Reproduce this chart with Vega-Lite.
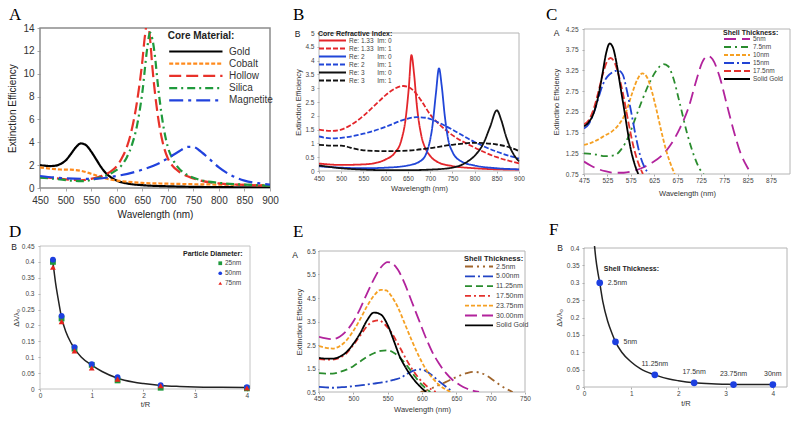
{
"$schema": "https://vega.github.io/schema/vega-lite/v6.json",
"background": "white",
"padding": {"left": 7, "top": 6, "right": 5, "bottom": 5},
"columns": 3,
"spacing": {"row": 58, "column": 49},
"bounds": "flush",
"align": {"row": "all", "column": "none"},
"resolve": {"scale": {"x": "independent", "y": "independent", "color": "independent", "strokeDash": "independent", "shape": "independent"}, "legend": {"color": "independent", "strokeDash": "independent", "shape": "independent"}},
"config": {
  "font": "Liberation Sans",
  "view": {"stroke": null},
  "axis": {"labelFont": "Liberation Sans", "titleFont": "Liberation Sans", "labelFontSize": 6.5, "titleFontSize": 7.5, "titleFontWeight": "normal", "labelColor": "#444", "titleColor": "#333", "domain": false, "grid": false, "tickSize": 2, "tickColor": "#aaa", "labelPadding": 2, "titlePadding": 3, "labelOverlap": false, "labelFlush": false},
  "legend": {"labelFont": "Liberation Sans", "titleFont": "Liberation Sans", "padding": 0, "orient": "none"},
  "text": {"font": "Liberation Sans"}
},
"datasets": {
"a": [
{"s":"Gold","x":450,"y":2.0},{"s":"Gold","x":460,"y":1.95},{"s":"Gold","x":470,"y":1.92},{"s":"Gold","x":480,"y":1.95},{"s":"Gold","x":490,"y":2.1},{"s":"Gold","x":500,"y":2.4},{"s":"Gold","x":510,"y":2.95},{"s":"Gold","x":520,"y":3.55},{"s":"Gold","x":530,"y":3.9},{"s":"Gold","x":540,"y":3.75},{"s":"Gold","x":550,"y":3.2},{"s":"Gold","x":560,"y":2.5},{"s":"Gold","x":570,"y":1.8},{"s":"Gold","x":580,"y":1.25},{"s":"Gold","x":590,"y":0.9},{"s":"Gold","x":600,"y":0.65},{"s":"Gold","x":620,"y":0.4},{"s":"Gold","x":650,"y":0.25},{"s":"Gold","x":700,"y":0.15},{"s":"Gold","x":750,"y":0.1},{"s":"Gold","x":800,"y":0.08},{"s":"Gold","x":850,"y":0.06},{"s":"Gold","x":900,"y":0.05},
{"s":"Cobalt","x":450,"y":1.8},{"s":"Cobalt","x":470,"y":1.7},{"s":"Cobalt","x":490,"y":1.62},{"s":"Cobalt","x":510,"y":1.6},{"s":"Cobalt","x":530,"y":1.5},{"s":"Cobalt","x":550,"y":1.25},{"s":"Cobalt","x":570,"y":0.95},{"s":"Cobalt","x":590,"y":0.72},{"s":"Cobalt","x":610,"y":0.6},{"s":"Cobalt","x":650,"y":0.45},{"s":"Cobalt","x":700,"y":0.38},{"s":"Cobalt","x":750,"y":0.33},{"s":"Cobalt","x":800,"y":0.3},{"s":"Cobalt","x":850,"y":0.27},{"s":"Cobalt","x":900,"y":0.25},
{"s":"Hollow","x":450,"y":0.95},{"s":"Hollow","x":480,"y":0.85},{"s":"Hollow","x":510,"y":0.72},{"s":"Hollow","x":530,"y":0.68},{"s":"Hollow","x":550,"y":0.8},{"s":"Hollow","x":570,"y":1.05},{"s":"Hollow","x":590,"y":1.5},{"s":"Hollow","x":600,"y":1.9},{"s":"Hollow","x":610,"y":2.6},{"s":"Hollow","x":620,"y":3.6},{"s":"Hollow","x":630,"y":5.2},{"s":"Hollow","x":640,"y":7.6},{"s":"Hollow","x":650,"y":11.0},{"s":"Hollow","x":655,"y":13.2},{"s":"Hollow","x":660,"y":14.5},{"s":"Hollow","x":665,"y":13.2},{"s":"Hollow","x":670,"y":10.5},{"s":"Hollow","x":680,"y":6.5},{"s":"Hollow","x":690,"y":4.0},{"s":"Hollow","x":700,"y":2.6},{"s":"Hollow","x":710,"y":1.9},{"s":"Hollow","x":720,"y":1.5},{"s":"Hollow","x":740,"y":1.0},{"s":"Hollow","x":760,"y":0.7},{"s":"Hollow","x":800,"y":0.4},{"s":"Hollow","x":850,"y":0.27},{"s":"Hollow","x":900,"y":0.2},
{"s":"Silica","x":450,"y":0.9},{"s":"Silica","x":480,"y":0.8},{"s":"Silica","x":510,"y":0.65},{"s":"Silica","x":530,"y":0.6},{"s":"Silica","x":550,"y":0.7},{"s":"Silica","x":570,"y":0.95},{"s":"Silica","x":590,"y":1.3},{"s":"Silica","x":610,"y":2.0},{"s":"Silica","x":620,"y":2.7},{"s":"Silica","x":630,"y":3.8},{"s":"Silica","x":640,"y":5.5},{"s":"Silica","x":650,"y":8.3},{"s":"Silica","x":660,"y":12.3},{"s":"Silica","x":665,"y":13.6},{"s":"Silica","x":670,"y":13.0},{"s":"Silica","x":675,"y":11.5},{"s":"Silica","x":680,"y":9.3},{"s":"Silica","x":690,"y":5.8},{"s":"Silica","x":700,"y":3.6},{"s":"Silica","x":710,"y":2.5},{"s":"Silica","x":720,"y":1.8},{"s":"Silica","x":740,"y":1.1},{"s":"Silica","x":760,"y":0.75},{"s":"Silica","x":800,"y":0.45},{"s":"Silica","x":850,"y":0.3},{"s":"Silica","x":900,"y":0.2},
{"s":"Magnetite","x":450,"y":1.05},{"s":"Magnetite","x":500,"y":0.85},{"s":"Magnetite","x":550,"y":0.8},{"s":"Magnetite","x":600,"y":1.05},{"s":"Magnetite","x":650,"y":1.6},{"s":"Magnetite","x":680,"y":2.1},{"s":"Magnetite","x":700,"y":2.6},{"s":"Magnetite","x":720,"y":3.15},{"s":"Magnetite","x":740,"y":3.6},{"s":"Magnetite","x":750,"y":3.6},{"s":"Magnetite","x":760,"y":3.35},{"s":"Magnetite","x":780,"y":2.6},{"s":"Magnetite","x":800,"y":1.8},{"s":"Magnetite","x":820,"y":1.2},{"s":"Magnetite","x":850,"y":0.65},{"s":"Magnetite","x":880,"y":0.4},{"s":"Magnetite","x":900,"y":0.3}
],
"b": [
{"s":"1.33|0","x":450,"y":0.27},{"s":"1.33|0","x":500,"y":0.22},{"s":"1.33|0","x":550,"y":0.24},{"s":"1.33|0","x":580,"y":0.3},{"s":"1.33|0","x":600,"y":0.42},{"s":"1.33|0","x":620,"y":0.65},{"s":"1.33|0","x":635,"y":1.1},{"s":"1.33|0","x":645,"y":1.9},{"s":"1.33|0","x":652,"y":3.0},{"s":"1.33|0","x":658,"y":4.2},{"s":"1.33|0","x":664,"y":3.5},{"s":"1.33|0","x":670,"y":2.4},{"s":"1.33|0","x":680,"y":1.3},{"s":"1.33|0","x":690,"y":0.8},{"s":"1.33|0","x":700,"y":0.55},{"s":"1.33|0","x":720,"y":0.3},{"s":"1.33|0","x":750,"y":0.18},{"s":"1.33|0","x":800,"y":0.1},{"s":"1.33|0","x":850,"y":0.06},{"s":"1.33|0","x":900,"y":0.05},
{"s":"1.33|1","x":450,"y":1.5},{"s":"1.33|1","x":480,"y":1.45},{"s":"1.33|1","x":500,"y":1.5},{"s":"1.33|1","x":520,"y":1.65},{"s":"1.33|1","x":550,"y":2.0},{"s":"1.33|1","x":580,"y":2.45},{"s":"1.33|1","x":600,"y":2.75},{"s":"1.33|1","x":620,"y":2.98},{"s":"1.33|1","x":640,"y":3.08},{"s":"1.33|1","x":660,"y":2.95},{"s":"1.33|1","x":680,"y":2.55},{"s":"1.33|1","x":700,"y":2.05},{"s":"1.33|1","x":720,"y":1.7},{"s":"1.33|1","x":750,"y":1.3},{"s":"1.33|1","x":800,"y":0.85},{"s":"1.33|1","x":850,"y":0.5},{"s":"1.33|1","x":900,"y":0.28},
{"s":"2|0","x":450,"y":0.17},{"s":"2|0","x":500,"y":0.12},{"s":"2|0","x":550,"y":0.1},{"s":"2|0","x":600,"y":0.12},{"s":"2|0","x":650,"y":0.2},{"s":"2|0","x":680,"y":0.38},{"s":"2|0","x":695,"y":0.8},{"s":"2|0","x":705,"y":1.6},{"s":"2|0","x":713,"y":2.8},{"s":"2|0","x":720,"y":3.72},{"s":"2|0","x":726,"y":3.1},{"s":"2|0","x":733,"y":2.0},{"s":"2|0","x":740,"y":1.2},{"s":"2|0","x":750,"y":0.7},{"s":"2|0","x":770,"y":0.35},{"s":"2|0","x":800,"y":0.2},{"s":"2|0","x":850,"y":0.1},{"s":"2|0","x":900,"y":0.06},
{"s":"2|1","x":450,"y":1.25},{"s":"2|1","x":480,"y":1.18},{"s":"2|1","x":500,"y":1.2},{"s":"2|1","x":550,"y":1.35},{"s":"2|1","x":600,"y":1.6},{"s":"2|1","x":640,"y":1.85},{"s":"2|1","x":670,"y":1.95},{"s":"2|1","x":690,"y":1.93},{"s":"2|1","x":720,"y":1.75},{"s":"2|1","x":750,"y":1.5},{"s":"2|1","x":800,"y":1.05},{"s":"2|1","x":850,"y":0.7},{"s":"2|1","x":900,"y":0.45},
{"s":"3|0","x":450,"y":0.2},{"s":"3|0","x":500,"y":0.1},{"s":"3|0","x":550,"y":0.05},{"s":"3|0","x":600,"y":0.03},{"s":"3|0","x":650,"y":0.03},{"s":"3|0","x":700,"y":0.05},{"s":"3|0","x":750,"y":0.12},{"s":"3|0","x":780,"y":0.3},{"s":"3|0","x":800,"y":0.55},{"s":"3|0","x":820,"y":1.0},{"s":"3|0","x":835,"y":1.6},{"s":"3|0","x":850,"y":2.2},{"s":"3|0","x":860,"y":1.85},{"s":"3|0","x":870,"y":1.3},{"s":"3|0","x":880,"y":0.85},{"s":"3|0","x":890,"y":0.55},{"s":"3|0","x":900,"y":0.35},
{"s":"3|1","x":450,"y":0.95},{"s":"3|1","x":480,"y":0.92},{"s":"3|1","x":500,"y":0.92},{"s":"3|1","x":520,"y":0.85},{"s":"3|1","x":550,"y":0.75},{"s":"3|1","x":600,"y":0.72},{"s":"3|1","x":650,"y":0.74},{"s":"3|1","x":700,"y":0.83},{"s":"3|1","x":750,"y":0.95},{"s":"3|1","x":800,"y":1.02},{"s":"3|1","x":850,"y":0.96},{"s":"3|1","x":880,"y":0.85},{"s":"3|1","x":900,"y":0.72}
],
"c": [
{"s":"5nm","x":475,"y":1.05},{"s":"5nm","x":490,"y":0.95},{"s":"5nm","x":505,"y":0.87},{"s":"5nm","x":520,"y":0.82},{"s":"5nm","x":540,"y":0.78},{"s":"5nm","x":560,"y":0.78},{"s":"5nm","x":580,"y":0.82},{"s":"5nm","x":600,"y":0.9},{"s":"5nm","x":620,"y":1.02},{"s":"5nm","x":640,"y":1.18},{"s":"5nm","x":660,"y":1.45},{"s":"5nm","x":680,"y":1.85},{"s":"5nm","x":700,"y":2.4},{"s":"5nm","x":715,"y":3.0},{"s":"5nm","x":728,"y":3.45},{"s":"5nm","x":740,"y":3.6},{"s":"5nm","x":750,"y":3.52},{"s":"5nm","x":765,"y":3.1},{"s":"5nm","x":780,"y":2.45},{"s":"5nm","x":795,"y":1.8},{"s":"5nm","x":810,"y":1.25},{"s":"5nm","x":825,"y":0.9},{"s":"5nm","x":833,"y":0.75},
{"s":"7.5nm","x":475,"y":1.25},{"s":"7.5nm","x":500,"y":1.22},{"s":"7.5nm","x":520,"y":1.18},{"s":"7.5nm","x":540,"y":1.2},{"s":"7.5nm","x":555,"y":1.35},{"s":"7.5nm","x":570,"y":1.65},{"s":"7.5nm","x":585,"y":2.1},{"s":"7.5nm","x":600,"y":2.55},{"s":"7.5nm","x":615,"y":2.95},{"s":"7.5nm","x":630,"y":3.25},{"s":"7.5nm","x":645,"y":3.4},{"s":"7.5nm","x":655,"y":3.35},{"s":"7.5nm","x":665,"y":3.1},{"s":"7.5nm","x":680,"y":2.45},{"s":"7.5nm","x":695,"y":1.75},{"s":"7.5nm","x":710,"y":1.2},{"s":"7.5nm","x":722,"y":0.88},{"s":"7.5nm","x":731,"y":0.75},
{"s":"10nm","x":475,"y":1.45},{"s":"10nm","x":490,"y":1.5},{"s":"10nm","x":505,"y":1.58},{"s":"10nm","x":520,"y":1.68},{"s":"10nm","x":535,"y":1.78},{"s":"10nm","x":550,"y":1.95},{"s":"10nm","x":565,"y":2.25},{"s":"10nm","x":578,"y":2.7},{"s":"10nm","x":590,"y":3.05},{"s":"10nm","x":600,"y":3.18},{"s":"10nm","x":610,"y":3.08},{"s":"10nm","x":620,"y":2.75},{"s":"10nm","x":630,"y":2.3},{"s":"10nm","x":640,"y":1.8},{"s":"10nm","x":650,"y":1.35},{"s":"10nm","x":660,"y":1.0},{"s":"10nm","x":669,"y":0.75},
{"s":"15nm","x":475,"y":1.85},{"s":"15nm","x":485,"y":1.95},{"s":"15nm","x":495,"y":2.2},{"s":"15nm","x":505,"y":2.55},{"s":"15nm","x":515,"y":2.9},{"s":"15nm","x":525,"y":3.1},{"s":"15nm","x":535,"y":3.2},{"s":"15nm","x":548,"y":3.25},{"s":"15nm","x":558,"y":3.15},{"s":"15nm","x":565,"y":2.85},{"s":"15nm","x":575,"y":2.3},{"s":"15nm","x":585,"y":1.7},{"s":"15nm","x":595,"y":1.2},{"s":"15nm","x":605,"y":0.9},{"s":"15nm","x":614,"y":0.75},
{"s":"17.5nm","x":475,"y":1.95},{"s":"17.5nm","x":485,"y":2.05},{"s":"17.5nm","x":495,"y":2.3},{"s":"17.5nm","x":505,"y":2.7},{"s":"17.5nm","x":515,"y":3.15},{"s":"17.5nm","x":525,"y":3.48},{"s":"17.5nm","x":532,"y":3.55},{"s":"17.5nm","x":540,"y":3.45},{"s":"17.5nm","x":550,"y":3.1},{"s":"17.5nm","x":560,"y":2.6},{"s":"17.5nm","x":570,"y":2.0},{"s":"17.5nm","x":580,"y":1.45},{"s":"17.5nm","x":590,"y":1.05},{"s":"17.5nm","x":601,"y":0.75},
{"s":"Solid Gold","x":475,"y":1.9},{"s":"Solid Gold","x":485,"y":2.0},{"s":"Solid Gold","x":495,"y":2.2},{"s":"Solid Gold","x":505,"y":2.6},{"s":"Solid Gold","x":515,"y":3.2},{"s":"Solid Gold","x":522,"y":3.65},{"s":"Solid Gold","x":530,"y":3.9},{"s":"Solid Gold","x":537,"y":3.8},{"s":"Solid Gold","x":545,"y":3.4},{"s":"Solid Gold","x":553,"y":2.85},{"s":"Solid Gold","x":561,"y":2.3},{"s":"Solid Gold","x":568,"y":1.8},{"s":"Solid Gold","x":575,"y":1.35},{"s":"Solid Gold","x":583,"y":1.0},{"s":"Solid Gold","x":591,"y":0.75}
],
"dp": [
{"s":"25nm","x":0.25,"y":0.4},{"s":"25nm","x":0.417,"y":0.222},{"s":"25nm","x":0.667,"y":0.127},{"s":"25nm","x":1.0,"y":0.076},{"s":"25nm","x":1.5,"y":0.027},{"s":"25nm","x":2.333,"y":0.004},{"s":"25nm","x":4.0,"y":0.002},
{"s":"50nm","x":0.25,"y":0.407},{"s":"50nm","x":0.417,"y":0.23},{"s":"50nm","x":0.667,"y":0.132},{"s":"50nm","x":1.0,"y":0.078},{"s":"50nm","x":1.5,"y":0.037},{"s":"50nm","x":2.333,"y":0.012},{"s":"50nm","x":4.0,"y":0.006},
{"s":"75nm","x":0.25,"y":0.383},{"s":"75nm","x":0.417,"y":0.212},{"s":"75nm","x":0.667,"y":0.12},{"s":"75nm","x":1.0,"y":0.066},{"s":"75nm","x":1.5,"y":0.031},{"s":"75nm","x":2.333,"y":0.01},{"s":"75nm","x":4.0,"y":0.003}
],
"dc": [
{"x":0.25,"y":0.4},{"x":0.3,"y":0.335},{"x":0.35,"y":0.285},{"x":0.417,"y":0.225},{"x":0.5,"y":0.18},{"x":0.6,"y":0.145},{"x":0.667,"y":0.127},{"x":0.8,"y":0.1},{"x":1.0,"y":0.075},{"x":1.2,"y":0.055},{"x":1.5,"y":0.034},{"x":1.8,"y":0.022},{"x":2.0,"y":0.017},{"x":2.333,"y":0.011},{"x":2.7,"y":0.008},{"x":3.0,"y":0.0065},{"x":3.5,"y":0.0055},{"x":4.0,"y":0.005}
],
"e": [
{"s":"2.5nm","x":598,"y":0.5},{"s":"2.5nm","x":605,"y":0.55},{"s":"2.5nm","x":615,"y":0.67},{"s":"2.5nm","x":625,"y":0.8},{"s":"2.5nm","x":635,"y":0.93},{"s":"2.5nm","x":645,"y":1.07},{"s":"2.5nm","x":655,"y":1.2},{"s":"2.5nm","x":665,"y":1.3},{"s":"2.5nm","x":675,"y":1.36},{"s":"2.5nm","x":685,"y":1.32},{"s":"2.5nm","x":695,"y":1.18},{"s":"2.5nm","x":705,"y":0.98},{"s":"2.5nm","x":715,"y":0.77},{"s":"2.5nm","x":725,"y":0.6},{"s":"2.5nm","x":732,"y":0.5},
{"s":"5.00nm","x":450,"y":0.72},{"s":"5.00nm","x":460,"y":0.7},{"s":"5.00nm","x":470,"y":0.68},{"s":"5.00nm","x":480,"y":0.7},{"s":"5.00nm","x":490,"y":0.72},{"s":"5.00nm","x":500,"y":0.75},{"s":"5.00nm","x":510,"y":0.78},{"s":"5.00nm","x":520,"y":0.82},{"s":"5.00nm","x":530,"y":0.86},{"s":"5.00nm","x":540,"y":0.9},{"s":"5.00nm","x":550,"y":0.95},{"s":"5.00nm","x":560,"y":1.03},{"s":"5.00nm","x":570,"y":1.12},{"s":"5.00nm","x":580,"y":1.3},{"s":"5.00nm","x":590,"y":1.43},{"s":"5.00nm","x":597,"y":1.46},{"s":"5.00nm","x":605,"y":1.4},{"s":"5.00nm","x":615,"y":1.2},{"s":"5.00nm","x":625,"y":0.95},{"s":"5.00nm","x":635,"y":0.72},{"s":"5.00nm","x":645,"y":0.5},
{"s":"11.25nm","x":450,"y":1.3},{"s":"11.25nm","x":460,"y":1.28},{"s":"11.25nm","x":470,"y":1.28},{"s":"11.25nm","x":480,"y":1.35},{"s":"11.25nm","x":490,"y":1.45},{"s":"11.25nm","x":500,"y":1.6},{"s":"11.25nm","x":510,"y":1.8},{"s":"11.25nm","x":520,"y":2.0},{"s":"11.25nm","x":530,"y":2.15},{"s":"11.25nm","x":540,"y":2.25},{"s":"11.25nm","x":550,"y":2.27},{"s":"11.25nm","x":560,"y":2.15},{"s":"11.25nm","x":570,"y":1.9},{"s":"11.25nm","x":580,"y":1.55},{"s":"11.25nm","x":590,"y":1.15},{"s":"11.25nm","x":600,"y":0.8},{"s":"11.25nm","x":608,"y":0.6},{"s":"11.25nm","x":612,"y":0.5},
{"s":"17.50nm","x":450,"y":1.9},{"s":"17.50nm","x":460,"y":1.88},{"s":"17.50nm","x":470,"y":1.88},{"s":"17.50nm","x":480,"y":1.95},{"s":"17.50nm","x":490,"y":2.15},{"s":"17.50nm","x":500,"y":2.5},{"s":"17.50nm","x":510,"y":2.9},{"s":"17.50nm","x":520,"y":3.3},{"s":"17.50nm","x":530,"y":3.52},{"s":"17.50nm","x":537,"y":3.55},{"s":"17.50nm","x":545,"y":3.4},{"s":"17.50nm","x":555,"y":3.05},{"s":"17.50nm","x":565,"y":2.55},{"s":"17.50nm","x":575,"y":2.0},{"s":"17.50nm","x":585,"y":1.5},{"s":"17.50nm","x":595,"y":1.1},{"s":"17.50nm","x":605,"y":0.8},{"s":"17.50nm","x":615,"y":0.58},{"s":"17.50nm","x":620,"y":0.5},
{"s":"23.75nm","x":450,"y":2.45},{"s":"23.75nm","x":460,"y":2.38},{"s":"23.75nm","x":470,"y":2.35},{"s":"23.75nm","x":480,"y":2.45},{"s":"23.75nm","x":490,"y":2.7},{"s":"23.75nm","x":500,"y":3.1},{"s":"23.75nm","x":510,"y":3.6},{"s":"23.75nm","x":520,"y":4.15},{"s":"23.75nm","x":530,"y":4.6},{"s":"23.75nm","x":540,"y":4.85},{"s":"23.75nm","x":548,"y":4.82},{"s":"23.75nm","x":555,"y":4.6},{"s":"23.75nm","x":565,"y":4.1},{"s":"23.75nm","x":575,"y":3.4},{"s":"23.75nm","x":585,"y":2.7},{"s":"23.75nm","x":595,"y":2.05},{"s":"23.75nm","x":605,"y":1.5},{"s":"23.75nm","x":615,"y":1.1},{"s":"23.75nm","x":625,"y":0.8},{"s":"23.75nm","x":635,"y":0.6},{"s":"23.75nm","x":642,"y":0.5},
{"s":"30.00nm","x":450,"y":2.85},{"s":"30.00nm","x":460,"y":2.78},{"s":"30.00nm","x":470,"y":2.75},{"s":"30.00nm","x":480,"y":2.85},{"s":"30.00nm","x":490,"y":3.1},{"s":"30.00nm","x":500,"y":3.5},{"s":"30.00nm","x":510,"y":4.05},{"s":"30.00nm","x":520,"y":4.7},{"s":"30.00nm","x":530,"y":5.3},{"s":"30.00nm","x":540,"y":5.8},{"s":"30.00nm","x":550,"y":6.03},{"s":"30.00nm","x":558,"y":5.95},{"s":"30.00nm","x":565,"y":5.7},{"s":"30.00nm","x":575,"y":5.1},{"s":"30.00nm","x":585,"y":4.35},{"s":"30.00nm","x":595,"y":3.6},{"s":"30.00nm","x":605,"y":2.85},{"s":"30.00nm","x":615,"y":2.2},{"s":"30.00nm","x":625,"y":1.7},{"s":"30.00nm","x":635,"y":1.3},{"s":"30.00nm","x":645,"y":1.0},{"s":"30.00nm","x":655,"y":0.8},{"s":"30.00nm","x":665,"y":0.65},{"s":"30.00nm","x":675,"y":0.55},{"s":"30.00nm","x":683,"y":0.5},
{"s":"Solid Gold","x":450,"y":1.95},{"s":"Solid Gold","x":460,"y":1.92},{"s":"Solid Gold","x":470,"y":1.92},{"s":"Solid Gold","x":480,"y":2.0},{"s":"Solid Gold","x":490,"y":2.2},{"s":"Solid Gold","x":500,"y":2.55},{"s":"Solid Gold","x":510,"y":3.0},{"s":"Solid Gold","x":520,"y":3.55},{"s":"Solid Gold","x":530,"y":3.88},{"s":"Solid Gold","x":540,"y":3.8},{"s":"Solid Gold","x":550,"y":3.35},{"s":"Solid Gold","x":560,"y":2.6},{"s":"Solid Gold","x":567,"y":2.05},{"s":"Solid Gold","x":575,"y":1.6},{"s":"Solid Gold","x":585,"y":1.15},{"s":"Solid Gold","x":595,"y":0.8},{"s":"Solid Gold","x":606,"y":0.5}
],
"fp": [
{"x":0.333,"y":0.3,"label":"2.5nm"},{"x":0.667,"y":0.13,"label":"5nm"},{"x":1.5,"y":0.035,"label":"11.25nm"},{"x":2.333,"y":0.012,"label":"17.5nm"},{"x":3.167,"y":0.007,"label":"23.75nm"},{"x":4.0,"y":0.007,"label":"30nm"}
],
"fc": [
{"x":0.22,"y":0.41},{"x":0.25,"y":0.37},{"x":0.3,"y":0.325},{"x":0.333,"y":0.3},{"x":0.4,"y":0.245},{"x":0.5,"y":0.19},{"x":0.6,"y":0.152},{"x":0.667,"y":0.13},{"x":0.8,"y":0.1},{"x":1.0,"y":0.072},{"x":1.2,"y":0.052},{"x":1.5,"y":0.035},{"x":1.8,"y":0.023},{"x":2.0,"y":0.018},{"x":2.333,"y":0.012},{"x":2.7,"y":0.009},{"x":3.0,"y":0.008},{"x":3.5,"y":0.007},{"x":4.0,"y":0.007}
]
},
"concat": [
{
 "width": 230, "height": 160,
 "layer": [
  {"data": {"values": [{}]}, "mark": {"type": "rect", "fill": "transparent", "stroke": "#8c8c8c", "strokeWidth": 1.5},
   "encoding": {"x": {"datum": 450}, "x2": {"datum": 900}, "y": {"datum": 0}, "y2": {"datum": 14}}},
  {"data": {"name": "a"}, "mark": {"type": "line", "strokeWidth": 2.2, "clip": true, "interpolate": "monotone"},
   "encoding": {
    "x": {"field": "x", "type": "quantitative", "scale": {"domain": [450, 900], "nice": false, "zero": false},
          "axis": {"title": "Wavelength (nm)", "values": [450,500,550,600,650,700,750,800,850,900], "format": ".2~f", "tickCount": 100, "labelOverlap": false, "labelFlush": false, "labelFontSize": 10, "titleFontSize": 10, "labelColor": "#333", "titleColor": "#222", "tickSize": 3, "labelPadding": 4, "titlePadding": 4}},
    "y": {"field": "y", "type": "quantitative", "scale": {"domain": [0, 14], "nice": false},
          "axis": {"title": "Extinction Efficiency", "values": [0,2,4,6,8,10,12,14], "format": ".2~f", "tickCount": 100, "labelOverlap": false, "labelFlush": false, "labelFontSize": 10, "titleFontSize": 10, "labelColor": "#333", "titleColor": "#222", "tickSize": 3, "labelPadding": 3, "titlePadding": 5}},
    "color": {"field": "s", "type": "nominal", "scale": {"domain": ["Gold","Cobalt","Hollow","Silica","Magnetite"], "range": ["#000000","#ff8a1c","#e8322a","#1f9a3c","#2142dd"]},
      "legend": {"title": "Core Material:", "orient": "none", "legendX": 127.7, "legendY": 3, "titleFontSize": 10, "titleFontWeight": "bold", "titleColor": "#222", "titlePadding": 4, "labelFontSize": 10, "labelColor": "#333", "symbolType": "M-5.33,0L5.33,0", "symbolSize": 100, "symbolStrokeWidth": 2.2, "symbolOffset": 21.65, "labelOffset": 26.65, "rowPadding": 0.2}},
    "strokeDash": {"field": "s", "type": "nominal", "scale": {"domain": ["Gold","Cobalt","Hollow","Silica","Magnetite"], "range": [[1,0],[4,2],[12,5],[8,4,2,4],[14,5,3,5]]},
      "legend": {"title": "Core Material:", "orient": "none", "legendX": 127.7, "legendY": 3, "titleFontSize": 10, "titleFontWeight": "bold", "titleColor": "#222", "titlePadding": 4, "labelFontSize": 10, "labelColor": "#333", "symbolType": "M-5.33,0L5.33,0", "symbolSize": 100, "symbolStrokeWidth": 2.2, "symbolOffset": 21.65, "labelOffset": 26.65, "rowPadding": 0.2}}
   }},
  {"data": {"values": [{}]}, "mark": {"type": "text", "text": "A", "dx": -31, "dy": -8, "font": "Liberation Serif", "fontSize": 17, "align": "left", "baseline": "alphabetic", "color": "#000"},
   "encoding": {"x": {"datum": 450}, "y": {"datum": 14}}}
 ]
},
{
 "width": 216, "height": 143,
 "layer": [
  {"data": {"values": [{}]}, "mark": {"type": "rect", "fill": "transparent", "stroke": "#b4b4b4", "strokeWidth": 1},
   "encoding": {"x": {"datum": 450}, "x2": {"datum": 900}, "y": {"datum": 0}, "y2": {"datum": 5}}},
  {"data": {"name": "b"}, "mark": {"type": "line", "strokeWidth": 1.8, "clip": true, "interpolate": "monotone"},
   "encoding": {
    "x": {"field": "x", "type": "quantitative", "scale": {"domain": [450, 900], "nice": false, "zero": false, "range": [0, 200]},
          "axis": {"title": "Wavelength (nm)", "values": [450,500,550,600,650,700,750,800,850,900], "format": ".2~f", "tickCount": 100, "labelOverlap": false, "labelFlush": false, "labelPadding": 2, "titlePadding": 3}},
    "y": {"field": "y", "type": "quantitative", "scale": {"domain": [0, 5], "nice": false, "range": [143, 5]},
          "axis": {"title": "Extinction Efficiency", "values": [0,0.5,1,1.5,2,2.5,3,3.5,4,4.5,5], "tickCount": 100, "format": ".2~f", "labelOverlap": false, "labelFlush": false, "labelPadding": 3, "titlePadding": 2.5}},
    "color": {"field": "s", "type": "nominal", "scale": {"domain": ["1.33|0","1.33|1","2|0","2|1","3|0","3|1"], "range": ["#e3262b","#e3262b","#2146d8","#2146d8","#111111","#111111"]},
      "legend": {"title": "Core Refractive Index:", "orient": "none", "legendX": -1, "legendY": 1.5, "titleFontSize": 7, "titleFontWeight": "bold", "titleColor": "#222", "titlePadding": 0, "labelFontSize": 6.5, "labelColor": "#444", "symbolType": "M-4.5,0L4.5,0", "symbolSize": 36, "symbolStrokeWidth": 1.8, "symbolOffset": 10.5, "labelOffset": 12.5, "rowPadding": -0.9,
        "labelExpr": "datum.value == '1.33|0' ? 'Re: 1.33\u00a0\u00a0Im: 0' : datum.value == '1.33|1' ? 'Re: 1.33\u00a0\u00a0Im: 1' : datum.value == '2|0' ? 'Re: 2\u00a0\u00a0\u00a0\u00a0\u00a0\u00a0\u00a0Im: 0' : datum.value == '2|1' ? 'Re: 2\u00a0\u00a0\u00a0\u00a0\u00a0\u00a0\u00a0Im: 1' : datum.value == '3|0' ? 'Re: 3\u00a0\u00a0\u00a0\u00a0\u00a0\u00a0\u00a0Im: 0' : 'Re: 3\u00a0\u00a0\u00a0\u00a0\u00a0\u00a0\u00a0Im: 1'"}},
    "strokeDash": {"field": "s", "type": "nominal", "scale": {"domain": ["1.33|0","1.33|1","2|0","2|1","3|0","3|1"], "range": [[1,0],[5,2],[1,0],[5,2],[1,0],[5,2]]},
      "legend": {"title": "Core Refractive Index:", "orient": "none", "legendX": -1, "legendY": 1.5, "titleFontSize": 7, "titleFontWeight": "bold", "titleColor": "#222", "titlePadding": 0, "labelFontSize": 6.5, "labelColor": "#444", "symbolType": "M-4.5,0L4.5,0", "symbolSize": 36, "symbolStrokeWidth": 1.8, "symbolOffset": 10.5, "labelOffset": 12.5, "rowPadding": -0.9,
        "labelExpr": "datum.value == '1.33|0' ? 'Re: 1.33\u00a0\u00a0Im: 0' : datum.value == '1.33|1' ? 'Re: 1.33\u00a0\u00a0Im: 1' : datum.value == '2|0' ? 'Re: 2\u00a0\u00a0\u00a0\u00a0\u00a0\u00a0\u00a0Im: 0' : datum.value == '2|1' ? 'Re: 2\u00a0\u00a0\u00a0\u00a0\u00a0\u00a0\u00a0Im: 1' : datum.value == '3|0' ? 'Re: 3\u00a0\u00a0\u00a0\u00a0\u00a0\u00a0\u00a0Im: 0' : 'Re: 3\u00a0\u00a0\u00a0\u00a0\u00a0\u00a0\u00a0Im: 1'"}}
   }},
  {"data": {"values": [{}]}, "mark": {"type": "text", "text": "B", "dx": -21.5, "dy": 1, "fontSize": 8.5, "align": "center", "baseline": "middle", "color": "#222"},
   "encoding": {"x": {"datum": 450}, "y": {"datum": 5}}},
  {"data": {"values": [{}]}, "mark": {"type": "text", "text": "B", "dx": -26, "dy": -13, "font": "Liberation Serif", "fontSize": 17, "align": "left", "baseline": "alphabetic", "color": "#000"},
   "encoding": {"x": {"datum": 450}, "y": {"datum": 5}}}
 ]
},
{
 "width": 206, "height": 146,
 "layer": [
  {"data": {"values": [{}]}, "mark": {"type": "rect", "fill": "transparent", "stroke": "#b4b4b4", "strokeWidth": 1},
   "encoding": {"x": {"datum": 475}, "x2": {"datum": 915.6}, "y": {"datum": 0.75}, "y2": {"datum": 4.25}}},
  {"data": {"name": "c"}, "mark": {"type": "line", "strokeWidth": 1.8, "clip": true, "interpolate": "monotone"},
   "encoding": {
    "x": {"field": "x", "type": "quantitative", "scale": {"domain": [475, 915.6], "nice": false, "zero": false},
          "axis": {"title": "Wavelength (nm)", "values": [475,525,575,625,675,725,775,825,875], "format": ".2~f", "tickCount": 100, "labelOverlap": false, "labelFlush": false, "labelPadding": 1.5, "titlePadding": 5}},
    "y": {"field": "y", "type": "quantitative", "scale": {"domain": [0.75, 4.25], "nice": false, "zero": false, "range": [146, 1]},
          "axis": {"title": "Extinctino Efficiency", "values": [0.75,1.25,1.75,2.25,2.75,3.25,3.75,4.25], "tickCount": 100, "format": ".2~f", "labelOverlap": false, "labelFlush": false, "labelPadding": 4, "titlePadding": 4.5}},
    "color": {"field": "s", "type": "nominal", "scale": {"domain": ["5nm","7.5nm","10nm","15nm","17.5nm","Solid Gold"], "range": ["#b2239c","#2a8c2e","#f5a023","#2244d4","#e3322e","#000000"]},
      "legend": {"title": "Shell Thickness:", "orient": "none", "legendX": 139, "legendY": 0.5, "titleFontSize": 7, "titleFontWeight": "bold", "titleColor": "#222", "titlePadding": 0, "labelFontSize": 6.5, "labelColor": "#444", "symbolType": "M-5.2,0L5.2,0", "symbolSize": 25, "symbolStrokeWidth": 1.8, "symbolOffset": 10.5, "labelOffset": 12.5, "rowPadding": -4}},
    "strokeDash": {"field": "s", "type": "nominal", "scale": {"domain": ["5nm","7.5nm","10nm","15nm","17.5nm","Solid Gold"], "range": [[12,6],[7,4,2,4],[4,2],[10,3,2,3],[7,3],[1,0]]},
      "legend": {"title": "Shell Thickness:", "orient": "none", "legendX": 139, "legendY": 0.5, "titleFontSize": 7, "titleFontWeight": "bold", "titleColor": "#222", "titlePadding": 0, "labelFontSize": 6.5, "labelColor": "#444", "symbolType": "M-5.2,0L5.2,0", "symbolSize": 25, "symbolStrokeWidth": 1.8, "symbolOffset": 10.5, "labelOffset": 12.5, "rowPadding": -4}}
   }},
  {"data": {"values": [{}]}, "mark": {"type": "text", "text": "A", "dx": -27.5, "dy": 3.7, "fontSize": 8.5, "align": "center", "baseline": "middle", "color": "#222"},
   "encoding": {"x": {"datum": 475}, "y": {"datum": 4.25}}},
  {"data": {"values": [{}]}, "mark": {"type": "text", "text": "C", "dx": -38, "dy": -9, "font": "Liberation Serif", "fontSize": 17, "align": "left", "baseline": "alphabetic", "color": "#000"},
   "encoding": {"x": {"datum": 475}, "y": {"datum": 4.25}}}
 ]
},
{
 "width": 229, "height": 143,
 "layer": [
  {"data": {"values": [{}]}, "mark": {"type": "rect", "fill": "transparent", "stroke": "#c4c4c4", "strokeWidth": 1},
   "encoding": {"x": {"datum": 0}, "x2": {"datum": 4.06}, "y": {"datum": 0}, "y2": {"datum": 0.45}}},
  {"data": {"name": "dc"}, "mark": {"type": "line", "strokeWidth": 1.5, "color": "#222", "clip": true, "interpolate": "monotone"},
   "encoding": {
    "x": {"field": "x", "type": "quantitative", "scale": {"domain": [0, 4.06], "nice": false, "range": [0, 210]},
          "axis": {"title": "t/R", "values": [0,1,2,3,4], "tickCount": 100, "format": ".2~f", "labelOverlap": false, "labelFlush": false, "labelPadding": 1.5, "titlePadding": 1}},
    "y": {"field": "y", "type": "quantitative", "scale": {"domain": [0, 0.45], "nice": false},
          "axis": {"title": "Δλ/λ₀", "values": [0,0.05,0.1,0.15,0.2,0.25,0.3,0.35,0.4,0.45], "tickCount": 100, "format": ".2~f", "labelOverlap": false, "labelFlush": false, "labelPadding": 4, "titlePadding": 1}}
   }},
  {"data": {"name": "dp"}, "mark": {"type": "point", "filled": true, "size": 34, "opacity": 1},
   "encoding": {
    "x": {"field": "x", "type": "quantitative"},
    "y": {"field": "y", "type": "quantitative"},
    "color": {"field": "s", "type": "nominal", "scale": {"domain": ["25nm","50nm","75nm"], "range": ["#1f9a3c","#1d3fe0","#e8231c"]},
      "legend": {"title": "Particle Diameter:", "orient": "none", "legendX": 143, "legendY": 4, "titleFontSize": 7, "titleFontWeight": "bold", "titleColor": "#222", "titlePadding": 3, "labelFontSize": 6.5, "labelColor": "#444", "symbolSize": 14, "symbolOffset": 34, "labelOffset": 1.5, "rowPadding": 3}},
    "shape": {"field": "s", "type": "nominal", "scale": {"domain": ["25nm","50nm","75nm"], "range": ["square","circle","triangle-up"]},
      "legend": {"title": "Particle Diameter:", "orient": "none", "legendX": 143, "legendY": 4, "titleFontSize": 7, "titleFontWeight": "bold", "titleColor": "#222", "titlePadding": 3, "labelFontSize": 6.5, "labelColor": "#444", "symbolSize": 14, "symbolOffset": 34, "labelOffset": 1.5, "rowPadding": 3}}
   }},
  {"data": {"values": [{}]}, "mark": {"type": "text", "text": "B", "dx": -26, "dy": 1, "fontSize": 8.5, "align": "center", "baseline": "middle", "color": "#222"},
   "encoding": {"x": {"datum": 0}, "y": {"datum": 0.45}}},
  {"data": {"values": [{}]}, "mark": {"type": "text", "text": "D", "dx": -31, "dy": -9, "font": "Liberation Serif", "fontSize": 17, "align": "left", "baseline": "alphabetic", "color": "#000"},
   "encoding": {"x": {"datum": 0}, "y": {"datum": 0.45}}}
 ]
},
{
 "width": 212, "height": 146,
 "layer": [
  {"data": {"values": [{}]}, "mark": {"type": "rect", "fill": "transparent", "stroke": "#b4b4b4", "strokeWidth": 1},
   "encoding": {"x": {"datum": 450}, "x2": {"datum": 750}, "y": {"datum": 0.5}, "y2": {"datum": 6.5}}},
  {"data": {"name": "e"}, "mark": {"type": "line", "strokeWidth": 1.8, "clip": true, "interpolate": "monotone"},
   "encoding": {
    "x": {"field": "x", "type": "quantitative", "scale": {"domain": [450, 750], "nice": false, "zero": false, "range": [0, 206]},
          "axis": {"title": "Wavelength (nm)", "values": [450,500,550,600,650,700,750], "format": ".2~f", "tickCount": 100, "labelOverlap": false, "labelFlush": false, "labelPadding": 1, "titlePadding": 4}},
    "y": {"field": "y", "type": "quantitative", "scale": {"domain": [0.5, 6.5], "nice": false, "zero": false, "range": [146, 5]},
          "axis": {"title": "Extinction Efficiency", "values": [0.5,1.5,2.5,3.5,4.5,5.5,6.5], "tickCount": 100, "format": ".2~f", "labelOverlap": false, "labelFlush": false, "tickSize": 1.5, "labelPadding": 2, "titlePadding": 3}},
    "color": {"field": "s", "type": "nominal", "scale": {"domain": ["2.5nm","5.00nm","11.25nm","17.50nm","23.75nm","30.00nm","Solid Gold"], "range": ["#a0652c","#2244c4","#2a8c2e","#e3322e","#f5a023","#b2239c","#000000"]},
      "legend": {"title": "Shell Thickness:", "orient": "none", "legendX": 145, "legendY": 9, "titleFontSize": 7.5, "titleFontWeight": "bold", "titleColor": "#222", "titlePadding": 0, "labelFontSize": 7, "labelColor": "#444", "symbolType": "M-4.67,0L4.67,0", "symbolSize": 36, "symbolStrokeWidth": 1.8, "symbolOffset": 11, "labelOffset": 13, "rowPadding": 1.8}},
    "strokeDash": {"field": "s", "type": "nominal", "scale": {"domain": ["2.5nm","5.00nm","11.25nm","17.50nm","23.75nm","30.00nm","Solid Gold"], "range": [[8,4,2,4,2,4],[10,3,2,3],[7,4],[6,3,2,3],[4,2],[12,5],[1,0]]},
      "legend": {"title": "Shell Thickness:", "orient": "none", "legendX": 145, "legendY": 9, "titleFontSize": 7.5, "titleFontWeight": "bold", "titleColor": "#222", "titlePadding": 0, "labelFontSize": 7, "labelColor": "#444", "symbolType": "M-4.67,0L4.67,0", "symbolSize": 36, "symbolStrokeWidth": 1.8, "symbolOffset": 11, "labelOffset": 13, "rowPadding": 1.8}}
   }},
  {"data": {"values": [{}]}, "mark": {"type": "text", "text": "A", "dx": -24, "dy": 3.5, "fontSize": 8.5, "align": "center", "baseline": "middle", "color": "#222"},
   "encoding": {"x": {"datum": 450}, "y": {"datum": 6.5}}},
  {"data": {"values": [{}]}, "mark": {"type": "text", "text": "E", "dx": -26, "dy": -14, "font": "Liberation Serif", "fontSize": 17, "align": "left", "baseline": "alphabetic", "color": "#000"},
   "encoding": {"x": {"datum": 450}, "y": {"datum": 6.5}}}
 ]
},
{
 "width": 203, "height": 141,
 "layer": [
  {"data": {"values": [{}]}, "mark": {"type": "rect", "fill": "transparent", "stroke": "#b4b4b4", "strokeWidth": 1},
   "encoding": {"x": {"datum": 0}, "x2": {"datum": 4.3}, "y": {"datum": 0}, "y2": {"datum": 0.4}}},
  {"data": {"name": "fc"}, "mark": {"type": "line", "strokeWidth": 1.5, "color": "#222", "clip": true, "interpolate": "monotone"},
   "encoding": {
    "x": {"field": "x", "type": "quantitative", "scale": {"domain": [0, 4.3], "nice": false},
          "axis": {"title": "t/R", "values": [0,1,2,3,4], "tickCount": 100, "format": ".2~f", "labelOverlap": false, "labelFlush": false, "labelPadding": 1.5, "titlePadding": 2}},
    "y": {"field": "y", "type": "quantitative", "scale": {"domain": [0, 0.4], "nice": false, "range": [141, 2]},
          "axis": {"title": "Δλ/λ₀", "values": [0,0.05,0.1,0.15,0.2,0.25,0.3,0.35,0.4], "tickCount": 100, "format": ".2~f", "labelOverlap": false, "labelFlush": false, "labelPadding": 3, "titlePadding": 3}}
   }},
  {"data": {"name": "fp"}, "mark": {"type": "point", "filled": true, "size": 45, "opacity": 1, "color": "#1d3fe0"},
   "encoding": {"x": {"field": "x", "type": "quantitative"}, "y": {"field": "y", "type": "quantitative"}}},
  {"data": {"name": "fp"}, "transform": [{"filter": "datum.x < 1"}], "mark": {"type": "text", "align": "left", "baseline": "middle", "dx": 8, "fontSize": 7, "color": "#333"},
   "encoding": {"x": {"field": "x", "type": "quantitative"}, "y": {"field": "y", "type": "quantitative"}, "text": {"field": "label"}}},
  {"data": {"name": "fp"}, "transform": [{"filter": "datum.x > 1"}], "mark": {"type": "text", "align": "center", "baseline": "middle", "dy": -11, "fontSize": 7, "color": "#333"},
   "encoding": {"x": {"field": "x", "type": "quantitative"}, "y": {"field": "y", "type": "quantitative"}, "text": {"field": "label"}}},
  {"data": {"values": [{}]}, "mark": {"type": "text", "text": "Shell Thickness:", "align": "left", "baseline": "middle", "fontSize": 7, "fontWeight": "bold", "color": "#222"},
   "encoding": {"x": {"datum": 0.42}, "y": {"datum": 0.339}}},
  {"data": {"values": [{}]}, "mark": {"type": "text", "text": "B", "dx": -24, "dy": -0.5, "fontSize": 8.5, "align": "center", "baseline": "middle", "color": "#222"},
   "encoding": {"x": {"datum": 0}, "y": {"datum": 0.4}}},
  {"data": {"values": [{}]}, "mark": {"type": "text", "text": "F", "dx": -35, "dy": -13, "font": "Liberation Serif", "fontSize": 17, "align": "left", "baseline": "alphabetic", "color": "#000"},
   "encoding": {"x": {"datum": 0}, "y": {"datum": 0.4}}}
 ]
}
]
}
